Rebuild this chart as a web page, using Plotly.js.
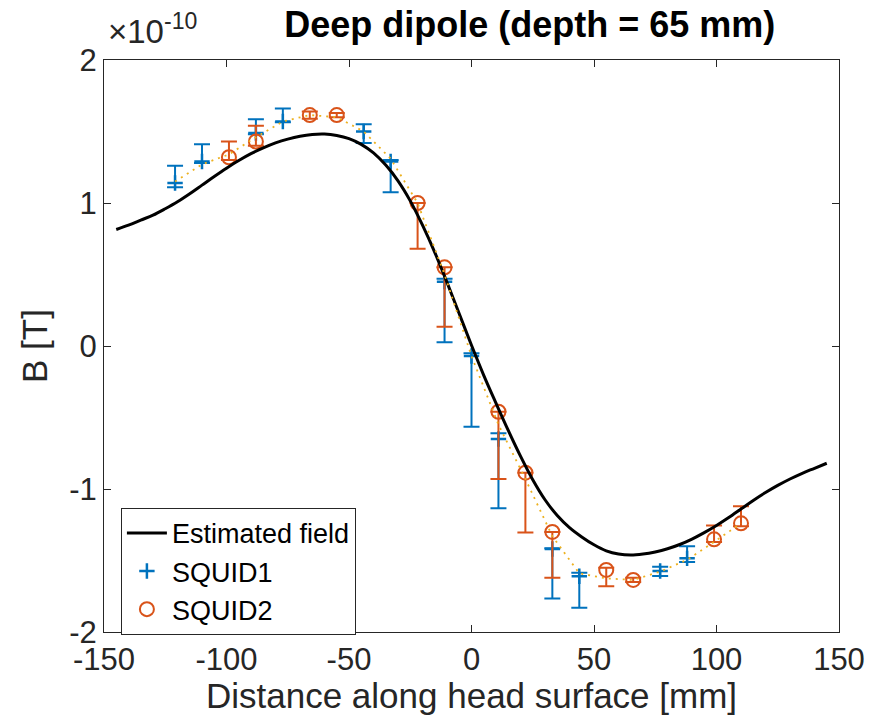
<!DOCTYPE html>
<html>
<head>
<meta charset="utf-8">
<script src="https://cdn.plot.ly/plotly-3.0.1.min.js"></script>
<style>html,body{margin:0;padding:0;background:#fff;}#chart{width:880px;height:715px;}</style>
</head>
<body>
<div id="chart"></div>
<script>
// Estimated field (units of 1e-10 T)
var fieldX = [-145,-140,-135,-130,-125,-120,-115,-110,-105,-100,-95,-90,-85,-80,-75,-70,-65,-60,-55,-50,-45,-40,-35,-30,-25,-20,-15,-10,-5,0,5,10,15,20,25,30,35,40,45,50,55,60,65,70,75,80,85,90,95,100,105,110,115,120,125,130,135,140,145];
var fieldY = [0.815,0.845,0.88,0.915,0.96,1.009,1.065,1.125,1.185,1.243,1.297,1.345,1.385,1.42,1.447,1.467,1.479,1.482,1.472,1.45,1.41,1.35,1.265,1.155,1.015,0.845,0.655,0.445,0.225,0.005,-0.205,-0.40,-0.59,-0.77,-0.935,-1.075,-1.185,-1.27,-1.335,-1.39,-1.432,-1.455,-1.462,-1.455,-1.44,-1.418,-1.388,-1.35,-1.305,-1.255,-1.20,-1.14,-1.08,-1.025,-0.975,-0.93,-0.89,-0.855,-0.82];

// SQUID1
var s1X = [-121,-110,-88,-77,-44,-33,-11,0,11,33,44,77,88];
var s1Y = [1.14,1.29,1.49,1.57,1.50,1.29,0.45,-0.07,-0.65,-1.42,-1.61,-1.573,-1.485];
var s1Top = [1.26,1.41,1.585,1.66,1.55,1.30,0.47,-0.05,-0.61,-1.415,-1.585,-1.543,-1.40];
var s1Bot = [1.11,1.28,1.48,1.565,1.42,1.075,0.026,-0.565,-1.135,-1.765,-1.83,-1.608,-1.51];

// SQUID2
var s2X = [-99,-88,-66,-55,-22,-11,11,22,33,55,66,99,110];
var s2Y = [1.32,1.43,1.615,1.615,1.00,0.55,-0.46,-0.886,-1.30,-1.566,-1.636,-1.352,-1.24];
var s2Top = [1.43,1.54,1.64,1.63,1.00,0.55,-0.46,-0.886,-1.30,-1.55,-1.62,-1.255,-1.12];
var s2Bot = [1.30,1.40,1.59,1.60,0.68,0.135,-0.93,-1.305,-1.62,-1.68,-1.65,-1.37,-1.26];

// Mean measured (dotted)
var meanX = [-121,-110,-99,-88,-77,-66,-55,-44,-33,-22,-11,0,11,22,33,44,55,66,77,88,99,110];
var meanY = [1.15,1.27,1.34,1.46,1.57,1.615,1.60,1.50,1.31,1.00,0.50,-0.07,-0.55,-0.93,-1.33,-1.59,-1.625,-1.636,-1.578,-1.495,-1.37,-1.24];

var xTicks = [-150,-100,-50,0,50,100,150];
var yTicks = [-2,-1,0,1,2];

function diff(a,b){return a.map(function(v,i){return Math.abs(v-b[i]);});}

var FONT = 'Liberation Sans, Arial, sans-serif';
var blue = '#0072BD', orange = '#D95319', yellow = '#EDB120';

var traces = [
  {x:s1X, y:s1Y, type:'scatter', mode:'markers', name:'SQUID1', legendrank:2,
   marker:{symbol:'cross-thin-open', size:11, color:blue, line:{color:blue, width:2.5}},
   error_y:{type:'data', symmetric:false, array:diff(s1Top,s1Y), arrayminus:diff(s1Y,s1Bot), color:blue, thickness:2, width:8}},
  {x:s2X, y:s2Y, type:'scatter', mode:'markers', name:'SQUID2', legendrank:3,
   marker:{symbol:'circle-open', size:14, color:orange, line:{color:orange, width:2}},
   error_y:{type:'data', symmetric:false, array:diff(s2Top,s2Y), arrayminus:diff(s2Y,s2Bot), color:orange, thickness:2, width:8}},
  {x:fieldX, y:fieldY, type:'scatter', mode:'lines', name:'Estimated field', legendrank:1,
   line:{color:'#000000', width:3, shape:'spline', smoothing:1}},
  {x:meanX, y:meanY, type:'scatter', mode:'lines', showlegend:false, hoverinfo:'skip',
   line:{color:yellow, width:1.8, dash:'2px,5px'}}
];

var axisCommon = {
  showgrid:false, zeroline:false, showline:true, linecolor:'#262626', linewidth:1,
  mirror:'ticks', ticks:'inside', ticklen:7, tickwidth:1, tickcolor:'#262626',
  tickfont:{family:FONT, size:31, color:'#262626'}
};

var layout = {
  width:880, height:715,
  margin:{l:104, r:41, t:60, b:83},
  paper_bgcolor:'#ffffff', plot_bgcolor:'#ffffff',
  font:{family:FONT, color:'#262626'},
  title:{text:'<b>Deep dipole (depth = 65 mm)</b>', font:{family:FONT, size:36, color:'#000000'},
         x:0.602, xref:'container', xanchor:'center', y:0.966, yref:'container', yanchor:'middle'},
  xaxis:Object.assign({}, axisCommon, {range:[-150,150], tickvals:xTicks, ticktext:xTicks.map(String),
         title:{text:'Distance along head surface [mm]', font:{family:FONT, size:35, color:'#262626'}, standoff:3}}),
  yaxis:Object.assign({}, axisCommon, {range:[-2,2], tickvals:yTicks, ticktext:yTicks.map(String),
         title:{text:'B [T]', font:{family:FONT, size:35, color:'#262626'}, standoff:10}}),
  showlegend:true,
  legend:{x:0.023, y:0.217, xanchor:'left', yanchor:'top', bgcolor:'#ffffff', bordercolor:'#262626', borderwidth:1,
          font:{family:FONT, size:27, color:'#000000'}, traceorder:'normal', itemwidth:40, tracegroupgap:0},
  annotations:[{text:'×10<sup>-10</sup>', xref:'paper', yref:'paper', x:0, y:1, xanchor:'left', yanchor:'bottom',
                xshift:2, yshift:8, showarrow:false, font:{family:FONT, size:33, color:'#262626'}}]
};

Plotly.newPlot('chart', traces, layout, {displayModeBar:false, staticPlot:true});
</script>
</body>
</html>
